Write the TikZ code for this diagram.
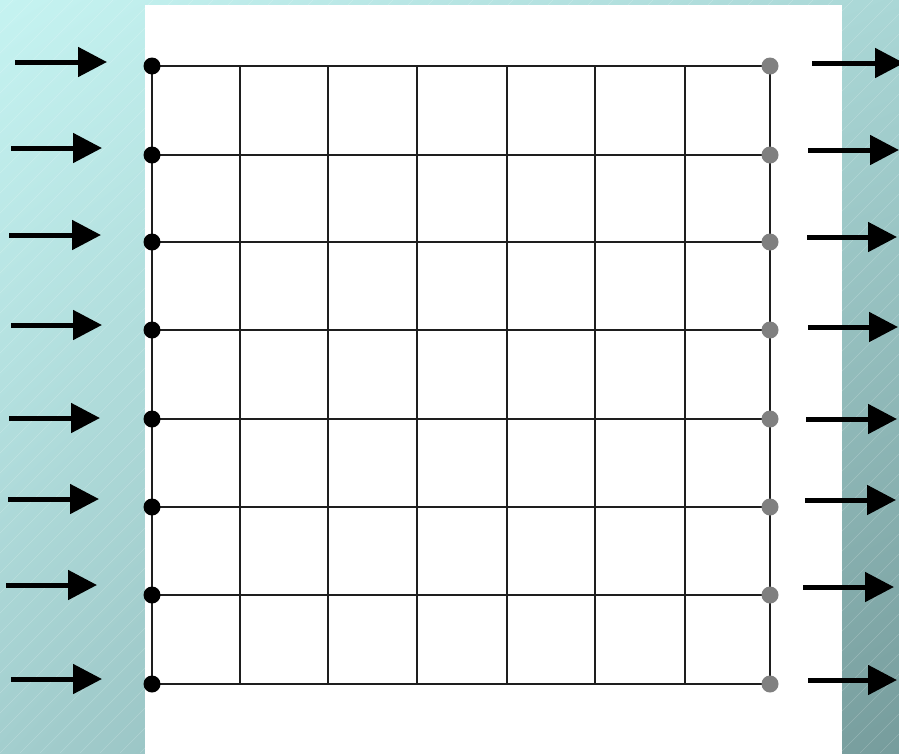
\documentclass[tikz,border=0pt]{standalone}
\usetikzlibrary{arrows.meta,shadings}
\definecolor{bgUL}{RGB}{197,243,241}
\definecolor{bgUR}{RGB}{170,215,214}
\definecolor{bgLL}{RGB}{163,206,206}
\definecolor{bgLR}{RGB}{118,156,156}
\definecolor{gridc}{RGB}{30,30,30}
\definecolor{dotgray}{RGB}{128,128,128}
\tikzset{
  gridline/.style={draw=gridc, line width=2pt},
  blackdot/.style={circle, fill=black, inner sep=0pt, minimum size=17pt},
  graydot/.style={circle, fill=dotgray, inner sep=0pt, minimum size=17pt},
  flowarrow/.style={draw=black, line width=5pt, -{Triangle[length=29pt,width=29pt]}},
  hatchline/.style={draw=white, line width=0.5pt, opacity=0.22}
}
\begin{document}
\begin{tikzpicture}[x=1pt,y=-1pt]
\useasboundingbox (0,0) rectangle (899,753);
\begin{scope}
\clip (0,0) rectangle (899,753);
\shade[upper left=bgUL, upper right=bgUR, lower left=bgLL, lower right=bgLR] (0,0) rectangle (899,753);
\foreach \k in {-800,-780,...,900} {
  \draw[hatchline] (\k,753) -- ++(753,-753);
}
\fill[white] (145,5) rectangle (842,760);
\end{scope}
% grid
\foreach \x in {152,240,328,417,507,595,685,770} {
  \draw[gridline] (\x,66) -- (\x,684);
}
\foreach \y in {66,155,242,330,419,507,595,684} {
  \draw[gridline] (152,\y) -- (770,\y);
}
% dots
\foreach \y [count=\i] in {66,155,242,330,419,507,595,684} {
  \node[blackdot] (L\i) at (152,\y) {};
  \node[graydot] (R\i) at (770,\y) {};
}
% left arrows
\foreach \sx/\ex/\y [count=\i] in {15/107/62,11/102/148,9/101/235,11/102/325,9/100/418,8/99/499,6/97/585,11/102/679} {
  \coordinate (la\i) at (\sx,\y);
  \coordinate (lb\i) at (\ex,\y);
  \draw[flowarrow] (la\i) -- (lb\i);
}
% right arrows
\begin{scope}
\clip (0,0) rectangle (899,753);
\foreach \sx/\ex/\y [count=\i] in {812/904/63,808/899/150,807/897/237,808/898/327,806/897/419,805/896/500,803/894/587,808/897/680} {
  \coordinate (ra\i) at (\sx,\y);
  \coordinate (rb\i) at (\ex,\y);
  \draw[flowarrow] (ra\i) -- (rb\i);
}
\end{scope}
\end{tikzpicture}
\end{document}
